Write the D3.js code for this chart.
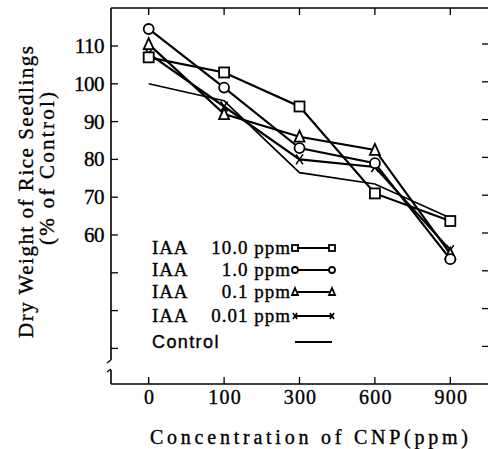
<!DOCTYPE html>
<html><head><meta charset="utf-8">
<script src="https://cdn.jsdelivr.net/npm/d3@7"></script>
<style>body{margin:0;background:#fff}svg{display:block}text{stroke:#000;stroke-width:0.35px}</style>
</head><body>
<script>
const categories = ["0","100","300","600","900"];
const iaa10  = [107, 103, 94, 71, 63.7];
const iaa1   = [114.5, 99, 83, 79, 53.6];
const iaa01  = [110.5, 92, 86, 82.5, 55];
const iaa001 = [108, 94, 80, 78, 56];
const control = [100, 95.5, 76.5, 73.5, 64.5];
const yTickLabels = [60,70,80,90,100,110];
const yTicksMinor = [30,40,50];
const legendLabels = [["IAA","10.0 ppm"],["IAA","1.0 ppm"],["IAA","0.1 ppm"],["IAA","0.01 ppm"],["Control",""]];

const W=489,H=449;
const svg=d3.select("body").append("svg").attr("width",W).attr("height",H);
const L=111,R=488,T=8,B=384;
const x=d3.scalePoint().domain(categories).range([L,R]).padding(0.5);
const y=d3.scaleLinear().domain([60,110]).range([235,46]);
const serif="'Liberation Serif','Times New Roman',serif";
const sans="'Liberation Sans',Arial,sans-serif";

const g=svg.append("g").attr("stroke","#000").attr("fill","none");
g.append("line").attr("x1",L).attr("x2",R).attr("y1",T).attr("y2",T).attr("stroke-width",1.6);
g.append("line").attr("x1",L).attr("x2",R).attr("y1",B).attr("y2",B).attr("stroke-width",1.6);
g.append("line").attr("x1",L).attr("x2",L).attr("y1",T).attr("y2",360).attr("stroke-width",1.6);
g.append("line").attr("x1",L).attr("x2",L).attr("y1",370).attr("y2",B).attr("stroke-width",1.6);
g.append("path").attr("d",`M${L-4},${363} L${L},${360}`).attr("stroke-width",1.4);
g.append("path").attr("d",`M${L-4},${372} L${L},${369}`).attr("stroke-width",1.4);
categories.forEach(c=>{
  g.append("line").attr("x1",x(c)).attr("x2",x(c)).attr("y1",T).attr("y2",T+7).attr("stroke-width",1.3);
  g.append("line").attr("x1",x(c)).attr("x2",x(c)).attr("y1",B).attr("y2",B-7).attr("stroke-width",1.3);
});
yTickLabels.concat(yTicksMinor).forEach(v=>{
  g.append("line").attr("x1",L).attr("x2",L+7).attr("y1",y(v)).attr("y2",y(v)).attr("stroke-width",1.3);
  g.append("line").attr("x1",R-6).attr("x2",R).attr("y1",y(v)-2).attr("y2",y(v)-2).attr("stroke-width",1.3);
});
const tg=svg.append("g").attr("fill","#000");
yTickLabels.forEach(v=>{
  tg.append("text").attr("x",104).attr("y",y(v)+7).attr("text-anchor","end")
    .attr("font-family",serif).attr("font-size",21).attr("letter-spacing",-0.5).text(v);
});
categories.forEach(c=>{
  tg.append("text").attr("x",x(c)+1).attr("y",404).attr("text-anchor","middle")
    .attr("font-family",serif).attr("font-size",20).attr("letter-spacing",1.2).text(c);
});
tg.append("text").attr("x",150).attr("y",444).attr("font-family",serif).attr("font-size",20)
  .attr("textLength",318).attr("lengthAdjust","spacing").text("Concentration of CNP(ppm)");
tg.append("text").attr("transform","translate(33,338) rotate(-90)").attr("font-family",serif).attr("font-size",21)
  .attr("textLength",292).attr("lengthAdjust","spacing").text("Dry Weight of Rice Seedlings");
tg.append("text").attr("transform","translate(54,245) rotate(-90)").attr("font-family",serif).attr("font-size",21)
  .attr("textLength",153).attr("lengthAdjust","spacing").text("(% of Control)");

const series=[
  {vals:iaa10,m:"square"},
  {vals:iaa1,m:"circle"},
  {vals:iaa01,m:"triangle"},
  {vals:iaa001,m:"x"},
];
const line=d3.line().x((d,i)=>x(categories[i])).y(d=>y(d));
const lg=svg.append("g").attr("fill","none").attr("stroke","#000");
lg.append("path").attr("d",line(control)).attr("stroke-width",1.6);
series.forEach(s=>lg.append("path").attr("d",line(s.vals)).attr("stroke-width",2.2));

function marker(sel,type,cx,cy,sz){
  const h=sz/2;
  if(type==="square") sel.append("rect").attr("x",cx-h).attr("y",cy-h).attr("width",sz).attr("height",sz).attr("fill","#fff").attr("stroke","#000").attr("stroke-width",1.8);
  else if(type==="circle") sel.append("circle").attr("cx",cx).attr("cy",cy).attr("r",h).attr("fill","#fff").attr("stroke","#000").attr("stroke-width",1.8);
  else if(type==="triangle") sel.append("path").attr("d",`M${cx},${cy-h-1} L${cx+h},${cy+h} L${cx-h},${cy+h} Z`).attr("fill","#fff").attr("stroke","#000").attr("stroke-width",1.8);
  else if(type==="x") sel.append("path").attr("d",`M${cx-h*0.7},${cy-h} L${cx+h*0.7},${cy+h} M${cx+h*0.7},${cy-h} L${cx-h*0.7},${cy+h}`).attr("stroke","#000").attr("stroke-width",1.6);
}
const mg=svg.append("g");
[3,2,1,0].forEach(k=>{
  const s=series[k];
  s.vals.forEach((v,i)=>marker(mg,s.m,x(categories[i]),y(v),10));
});

const rows=[248,270,292,316,342];
const legG=svg.append("g");
legendLabels.forEach((lab,i)=>{
  const ry=rows[i];
  if(i<4){
    legG.append("text").attr("x",152).attr("y",ry+6).attr("font-family",serif).attr("font-size",19).attr("letter-spacing",0.8).text(lab[0]);
    legG.append("text").attr("x",291).attr("y",ry+6).attr("text-anchor","end").attr("font-family",serif).attr("font-size",19).attr("letter-spacing",1).text(lab[1]);
    legG.append("line").attr("x1",295).attr("x2",332).attr("y1",ry).attr("y2",ry).attr("stroke","#000").attr("stroke-width",1.8);
    marker(legG,series[i].m,295,ry,6);
    marker(legG,series[i].m,332,ry,6);
  } else {
    legG.append("text").attr("x",152).attr("y",ry+6).attr("font-family",sans).attr("font-size",18).attr("letter-spacing",1.4).text(lab[0]);
    legG.append("line").attr("x1",295).attr("x2",332).attr("y1",ry).attr("y2",ry).attr("stroke","#000").attr("stroke-width",1.8);
  }
});
</script>
</body></html>
